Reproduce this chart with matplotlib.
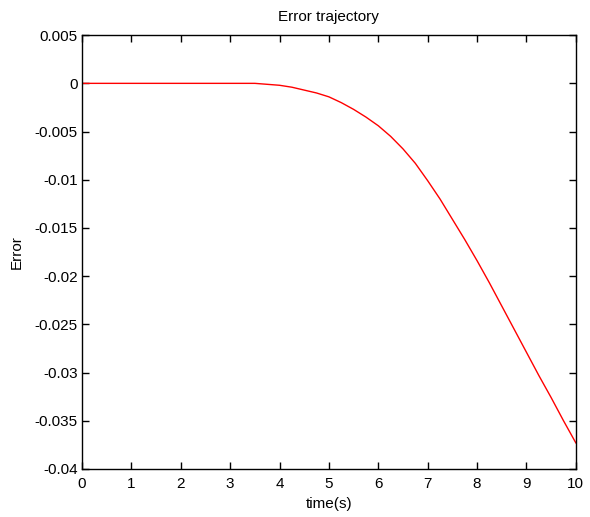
import numpy as np
import matplotlib
matplotlib.use('Agg')
import matplotlib.pyplot as plt

# Error trajectory (time in s, error)
time_s = [0.0, 1.0, 2.0, 3.0, 3.5, 3.75, 4.0, 4.25, 4.5, 4.75, 5.0, 5.25,
          5.5, 5.75, 6.0, 6.25, 6.5, 6.75, 7.0, 7.25, 7.5, 7.75, 8.0, 8.25,
          8.5, 8.75, 9.0, 9.25, 9.5, 9.75, 10.0]
error = [0.0, 0.0, 0.0, 0.0, 0.0, -0.0001, -0.0002, -0.0004, -0.0007,
         -0.0010, -0.0014, -0.0020, -0.0027, -0.0035, -0.0044, -0.0055,
         -0.0068, -0.0083, -0.0101, -0.0120, -0.0141, -0.0162, -0.0184,
         -0.0207, -0.0231, -0.0255, -0.0279, -0.0303, -0.0326, -0.0350,
         -0.0373]

x_ticks = list(range(0, 11))
y_ticks = [0.005, 0, -0.005, -0.01, -0.015, -0.02, -0.025, -0.03, -0.035, -0.04]
y_tick_labels = ['0.005', '0', '-0.005', '-0.01', '-0.015', '-0.02',
                 '-0.025', '-0.03', '-0.035', '-0.04']

plt.rcParams['font.family'] = ['Liberation Sans', 'DejaVu Sans']

fig = plt.figure(figsize=(5.9, 5.17), dpi=100)
ax = fig.add_axes([0.139, 0.093, 0.837, 0.839])

ax.plot(time_s, error, color='red', linewidth=1.0)

ax.set_xlim(0, 10)
ax.set_ylim(-0.04, 0.005)
ax.set_xticks(x_ticks)
ax.set_yticks(y_ticks)
ax.set_yticklabels(y_tick_labels)
ax.tick_params(direction='in', top=True, right=True, length=5, width=1,
               labelsize=11, pad=3)
ax.tick_params(axis='x', pad=6)
for spine in ax.spines.values():
    spine.set_linewidth(1.0)

ax.set_title('Error trajectory', fontsize=11, pad=10)
ax.set_xlabel('time(s)', fontsize=11, labelpad=4)
ax.set_ylabel('Error', fontsize=11, labelpad=8)

fig.savefig('out.png', dpi=100)
